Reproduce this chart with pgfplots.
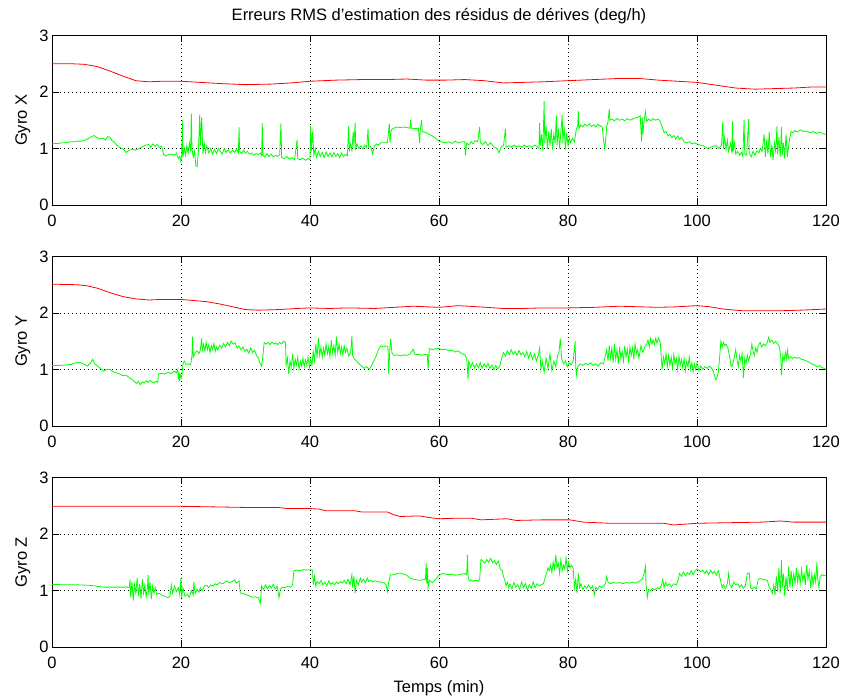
\documentclass[border=0pt]{standalone}
\usepackage{pgfplots}
\pgfplotsset{compat=1.18}
\usepackage{fontspec}
\setmainfont{Liberation Sans}
\definecolor{mred}{rgb}{1,0,0}
\definecolor{mgreen}{rgb}{0,1,0}
\pgfplotsset{
  mstyle/.style={
    scale only axis, width=774pt, height=169.5pt,
    xmin=0, xmax=120, ymin=0, ymax=3,
    xtick={0,20,...,120}, ytick={0,1,2,3},
    grid=major,
    major grid style={black, line width=0.6pt, dash pattern=on 0.9pt off 3.1pt},
    axis line style={black, line width=0.9pt},
    tick align=inside, major tick length=7pt,
    tick style={black, line width=0.8pt},
    /pgf/number format/assume math mode=true,
    tick label style={font=\fontsize{16.5}{19}\selectfont},
    label style={font=\fontsize{16.5}{19}\selectfont},
    title style={font=\fontsize{16.5}{19}\selectfont},
    xticklabel style={anchor=base, yshift=-21.5pt},
    ylabel style={at={(axis description cs:-0.0323,0.5)}, rotate=0, anchor=base},
    every axis plot/.append style={line width=0.8pt, mark=none},
    clip=true,
  }
}
\begin{document}
\begin{tikzpicture}
\path[use as bounding box] (0,0) rectangle (844pt,698pt);
% ---------------- Gyro X
\begin{axis}[mstyle, at={(52pt,493pt)}, anchor=south west,
  ylabel={Gyro X},
  title={Erreurs RMS d’estimation des résidus de dérives (deg/h)},
  title style={at={(axis description cs:0.5,1)}, anchor=base, yshift=9pt}]
\addplot[mred] table {
x y
0 2.50
3 2.50
5 2.49
7 2.45
9 2.37
11 2.28
13 2.20
15 2.18
17 2.19
20 2.19
23 2.17
26 2.15
30 2.13
34 2.14
37 2.16
40 2.19
44 2.21
48 2.22
52 2.22
55 2.23
58 2.21
61 2.21
64 2.22
67 2.20
70 2.16
73 2.17
76 2.18
80 2.20
84 2.22
88 2.24
91 2.24
94 2.21
97 2.19
100 2.17
103 2.12
106 2.07
109 2.05
112 2.06
115 2.07
118 2.09
120 2.09
};
\addplot[mgreen] table {
x y
0 1.08
0.5 1.09
1 1.09
1.5 1.10
2 1.10
2.5 1.11
3 1.12
3.5 1.12
4 1.13
4.5 1.13
5 1.14
5.5 1.17
6 1.20
6.5 1.23
7 1.19
7.5 1.17
8 1.18
8.3 1.15
8.6 1.21
9 1.20
9.3 1.14
9.6 1.12
10 1.06
10.5 1.02
11 0.99
11.5 0.93
12 0.97
12.5 0.99
13 0.97
13.5 1.00
14 1.03
14.5 1.06
15 1.07
15.3 1.02
15.6 1.08
16 1.04
16.3 1.07
16.6 1.02
17 1.04
17.3 0.90
17.6 0.87
18 0.89
18.5 0.90
19 0.88
19.3 0.92
19.6 0.82
19.8 0.86
20 0.76
20.1 0.82
20.2 1.50
20.3 0.85
20.5 1.00
20.7 0.88
20.9 1.05
21.1 0.92
21.3 1.10
21.5 0.95
21.6 1.62
21.7 1.00
21.9 0.85
22.1 0.95
22.3 0.70
22.5 0.68
22.7 0.95
22.9 1.60
23.0 1.05
23.2 1.55
23.4 0.90
23.6 1.10
23.8 0.93
24.0 1.05
24.3 0.92
24.6 1.00
24.9 0.90
25.2 0.98
25.5 0.91
25.8 1.00
26.1 0.95
26.4 0.90
26.7 1.00
27 0.93
27.3 0.98
27.6 0.92
28 0.97
28.3 0.93
28.6 0.99
28.9 0.92
29.0 1.38
29.1 0.95
29.4 0.91
29.7 0.97
30 0.92
30.3 0.95
30.6 0.90
31 0.92
31.3 0.88
31.6 0.91
32 0.89
32.3 0.92
32.5 0.88
32.6 1.45
32.7 0.88
33 0.85
33.3 0.91
33.6 0.86
34 0.90
34.3 0.85
34.6 0.88
35 0.86
35.3 0.89
35.5 1.45
35.6 0.84
36 0.82
36.4 0.86
36.8 0.81
37.2 0.84
37.6 0.80
38.0 1.15
38.1 0.82
38.5 0.80
38.9 0.83
39.3 0.79
39.7 0.82
40.0 0.80
40.1 1.40
40.2 0.95
40.4 1.30
40.6 0.88
40.8 1.00
41 0.85
41.3 0.95
41.6 0.86
41.9 0.93
42.2 0.84
42.5 0.94
42.8 0.86
43.1 0.92
43.4 0.85
43.7 0.93
44 0.86
44.3 0.91
44.6 0.84
44.9 0.92
45.2 0.86
45.5 0.90
45.8 0.87
46.0 1.40
46.1 0.95
46.3 1.08
46.5 0.96
46.7 1.30
46.8 1.05
47.0 1.45
47.1 1.00
47.3 1.08
47.6 1.00
47.9 1.05
48.2 0.99
48.5 1.06
48.8 1.01
49.0 1.35
49.1 1.02
49.4 1.04
49.7 0.90
50.0 1.05
50.3 1.08
50.6 1.06
51 1.10
51.5 1.10
52 1.10
52.3 1.44
52.4 1.10
52.6 1.33
53 1.36
53.5 1.38
54 1.37
54.5 1.38
55 1.37
55.5 1.36
55.6 1.50
55.7 1.36
56.2 1.35
56.8 1.36
57.0 1.10
57.1 1.34
57.3 1.50
57.4 1.30
58 1.28
58.5 1.25
59 1.22
59.5 1.18
60 1.13
60.5 1.11
61 1.10
61.5 1.12
62 1.09
62.5 1.13
63 1.10
63.5 1.12
64.0 1.12
64.1 0.88
64.3 1.10
64.6 1.06
65 1.12
65.3 1.08
65.6 1.14
66.0 1.12
66.3 1.38
66.4 1.10
66.8 1.07
67.2 1.12
67.6 1.05
68 1.10
68.5 1.03
69 1.00
69.3 0.92
69.6 1.02
70.0 1.05
70.3 1.35
70.4 1.02
70.8 1.05
71.2 1.02
71.6 1.06
72 1.03
72.4 1.05
72.8 1.02
73.2 1.06
73.6 1.03
74 1.05
74.4 1.02
74.8 1.06
75.2 1.04
75.5 1.00
75.6 1.45
75.7 1.05
75.9 1.25
76.1 0.95
76.3 1.84
76.4 1.10
76.6 1.40
76.8 1.00
77.0 1.30
77.2 1.05
77.4 1.35
77.6 0.98
77.8 1.25
78.0 1.10
78.2 1.58
78.3 1.05
78.5 1.35
78.7 1.00
78.9 1.30
79.1 1.60
79.2 1.10
79.4 1.40
79.6 0.98
79.8 1.28
80.0 1.05
80.2 1.20
80.4 1.10
80.7 1.18
81.0 1.12
81.3 1.35
81.5 1.40
81.6 1.66
81.7 1.35
82.0 1.42
82.3 1.38
82.6 1.43
83.0 1.40
83.3 1.44
83.6 1.39
84.0 1.42
84.3 1.38
84.6 1.43
85.0 1.40
85.3 1.38
85.5 1.15
85.7 1.00
85.8 1.10
86.0 1.40
86.2 1.47
86.4 1.70
86.5 1.50
86.8 1.52
87.2 1.49
87.6 1.53
88 1.50
88.4 1.52
88.8 1.49
89.2 1.53
89.6 1.50
90 1.52
90.4 1.54
90.8 1.55
91.2 1.58
91.4 1.12
91.5 1.55
91.6 1.25
91.8 1.50
92.0 1.65
92.2 1.48
92.5 1.52
92.8 1.49
93.2 1.53
93.6 1.50
94.0 1.52
94.3 1.48
94.6 1.38
94.9 1.28
95.2 1.30
95.5 1.22
95.8 1.25
96.1 1.19
96.4 1.23
96.7 1.17
97.0 1.22
97.3 1.16
97.6 1.20
98.0 1.12
98.4 1.10
98.8 1.12
99.2 1.08
99.6 1.10
100 1.08
100.5 1.06
101 1.05
101.6 1.00
102 1.02
102.5 1.04
103 1.05
103.4 1.00
103.8 1.06
104.0 1.48
104.1 1.00
104.3 1.20
104.5 0.98
104.7 1.15
104.9 0.95
105.2 1.10
105.4 0.92
105.5 1.48
105.6 0.95
105.8 1.10
106.0 0.90
106.3 0.95
106.6 0.88
106.9 0.93
107.1 0.86
107.3 1.50
107.4 0.90
107.7 0.88
108.0 1.52
108.1 0.92
108.4 0.85
108.7 0.95
109.0 0.88
109.3 0.96
109.6 0.92
109.8 1.00
110.1 0.95
110.4 1.25
110.6 0.85
110.8 1.15
111.0 0.90
111.2 1.30
111.4 0.85
111.6 1.05
111.8 0.80
112.0 1.10
112.2 0.95
112.4 1.40
112.5 0.90
112.7 1.20
112.9 0.85
113.1 1.38
113.2 0.88
113.4 1.10
113.6 0.82
113.8 1.25
114.0 0.85
114.2 1.05
114.4 1.20
114.6 1.30
114.9 1.28
115.2 1.32
115.5 1.29
116 1.33
116.5 1.30
117 1.31
117.5 1.28
118 1.30
118.5 1.27
119 1.29
119.5 1.26
120 1.25
};
\end{axis}
% ---------------- Gyro Y
\begin{axis}[mstyle, at={(52pt,272pt)}, anchor=south west, ylabel={Gyro Y}]
\addplot[mred] table {
x y
0 2.51
4 2.50
5.5 2.48
7 2.44
9 2.36
11 2.29
13 2.25
15 2.23
17 2.24
20 2.24
22 2.22
24 2.20
26 2.16
28 2.11
30 2.06
32 2.05
35 2.06
38 2.08
40 2.09
43 2.08
46 2.09
50 2.08
53 2.10
56 2.12
60 2.10
63 2.13
66 2.11
70 2.08
73 2.08
76 2.09
80 2.09
84 2.10
88 2.12
91 2.11
94 2.10
97 2.11
100 2.13
102 2.11
104 2.07
107 2.04
110 2.04
113 2.04
116 2.05
120 2.07
};
\addplot[mgreen] table {
x y
0 1.07
1 1.07
2 1.08
3 1.09
3.5 1.11
4 1.13
4.5 1.12
5 1.09
5.5 1.06
6 1.12
6.3 1.18
6.6 1.10
7 1.07
7.5 1.02
8 0.97
8.5 1.00
9 1.00
9.5 0.96
10 0.94
10.5 0.92
11 0.89
11.5 0.90
12 0.85
12.5 0.82
12.8 0.78
13.1 0.75
13.4 0.79
13.7 0.73
14.0 0.78
14.3 0.76
14.6 0.80
14.9 0.77
15.2 0.81
15.5 0.78
15.8 0.76
16.1 0.79
16.4 0.77
16.5 0.92
17 0.93
17.5 0.92
18 0.95
18.5 0.93
19 0.97
19.3 0.94
19.5 1.00
19.6 0.82
19.7 0.95
19.8 0.80
19.9 0.90
20.1 0.85
20.3 1.10
20.5 1.15
20.8 1.09
21.2 1.10
21.5 1.08
21.7 1.25
21.8 1.58
21.9 1.22
22.2 1.30
22.5 1.33
22.8 1.28
23.0 1.35
23.2 1.55
23.3 1.35
23.5 1.45
23.7 1.32
23.9 1.48
24.1 1.35
24.3 1.44
24.5 1.30
24.7 1.42
24.9 1.36
25.1 1.46
25.3 1.32
25.5 1.40
25.7 1.35
26.0 1.43
26.3 1.38
26.6 1.46
26.9 1.40
27.2 1.48
27.5 1.42
27.8 1.50
28.1 1.45
28.4 1.47
28.7 1.38
29 1.42
29.3 1.35
29.6 1.40
29.9 1.32
30.2 1.36
30.5 1.29
30.8 1.38
31.1 1.30
31.4 1.34
31.7 1.25
32.0 1.20
32.3 1.10
32.5 1.06
32.7 1.25
32.9 1.48
33.2 1.45
33.5 1.48
33.8 1.44
34.1 1.49
34.4 1.45
34.7 1.47
35 1.44
35.3 1.48
35.6 1.45
35.9 1.50
36.2 1.48
36.3 1.08
36.5 1.20
36.7 0.92
36.9 1.15
37.1 1.05
37.3 1.28
37.5 1.02
37.7 1.18
37.9 1.08
38.1 1.22
38.3 1.00
38.5 1.15
38.7 1.06
38.9 1.20
39.1 1.04
39.3 1.17
39.5 1.08
39.7 1.22
39.9 1.03
40.1 1.18
40.3 1.08
40.5 1.32
40.7 1.15
40.9 1.45
41.1 1.20
41.3 1.56
41.5 1.25
41.7 1.40
41.9 1.22
42.1 1.38
42.3 1.25
42.5 1.45
42.7 1.28
42.9 1.40
43.1 1.22
43.3 1.52
43.5 1.30
43.7 1.42
43.9 1.25
44.1 1.58
44.3 1.30
44.5 1.45
44.7 1.28
44.9 1.40
45.1 1.26
45.3 1.42
45.5 1.30
45.7 1.38
46.0 1.24
46.3 1.30
46.5 1.59
46.6 1.25
46.9 1.18
47.2 1.15
47.6 1.10
48.0 1.06
48.4 1.02
48.8 1.05
49.2 1.00
49.6 1.08
50.0 1.18
50.3 1.25
50.6 1.35
51.0 1.42
51.4 1.40
51.8 1.42
52.1 1.40
52.2 0.92
52.4 1.40
52.5 1.54
52.7 1.30
53 1.25
53.5 1.26
54 1.24
54.5 1.26
55 1.25
55.5 1.27
56.0 1.36
56.3 1.26
56.8 1.27
57.3 1.25
57.8 1.27
58.2 1.26
58.3 1.00
58.5 1.37
59 1.35
59.5 1.37
60 1.37
60.5 1.35
61 1.36
61.5 1.33
62 1.34
62.5 1.31
63 1.33
63.5 1.28
64 1.26
64.3 1.20
64.5 0.83
64.6 1.15
64.9 1.05
65.2 1.12
65.5 1.02
65.8 1.10
66.1 1.03
66.4 1.12
66.7 1.02
67.0 1.10
67.3 1.04
67.6 1.11
67.9 1.02
68.2 1.08
68.5 1.00
68.8 1.07
69.1 1.01
69.4 1.05
69.7 1.20
70.0 1.30
70.3 1.24
70.6 1.33
70.9 1.26
71.2 1.35
71.5 1.27
71.8 1.32
72.1 1.25
72.4 1.34
72.7 1.26
73.0 1.30
73.3 1.22
73.6 1.32
73.9 1.20
74.2 1.30
74.5 1.18
74.8 1.28
75.1 1.15
75.4 1.25
75.6 1.38
75.8 1.00
76.0 1.15
76.3 0.95
76.6 1.20
76.9 1.02
77.2 1.28
77.5 0.98
77.8 1.15
78.1 1.05
78.4 1.25
78.6 1.30
78.8 1.55
79.0 1.20
79.3 1.10
79.6 1.15
79.9 1.05
80.2 1.12
80.5 1.08
80.8 1.15
81.1 1.50
81.2 1.05
81.3 0.90
81.5 1.05
81.9 1.10
82.3 1.07
82.7 1.11
83.1 1.08
83.5 1.12
83.9 1.07
84.3 1.10
84.7 1.06
85.1 1.12
85.5 1.10
85.8 1.25
86.0 1.35
86.2 1.15
86.4 1.42
86.6 1.20
86.8 1.38
87.0 1.12
87.2 1.45
87.4 1.18
87.6 1.35
87.8 1.10
88.0 1.40
88.2 1.20
88.4 1.32
88.6 1.15
88.8 1.42
89.0 1.22
89.2 1.36
89.4 1.12
89.6 1.40
89.8 1.25
90.0 1.38
90.2 1.18
90.4 1.45
90.6 1.28
90.8 1.35
91.0 1.20
91.3 1.42
91.6 1.30
91.9 1.40
92.2 1.45
92.4 1.52
92.6 1.40
92.8 1.55
93.0 1.45
93.2 1.52
93.4 1.44
93.6 1.55
93.8 1.46
94.0 1.56
94.3 1.48
94.6 1.00
94.8 1.22
95.0 1.10
95.2 1.28
95.4 1.05
95.6 1.25
95.8 1.08
96.0 1.22
96.2 1.02
96.4 1.26
96.6 1.10
96.8 1.20
97.0 1.00
97.2 1.24
97.4 1.08
97.6 1.18
97.8 1.02
98.0 1.20
98.2 0.98
98.4 1.15
98.6 1.05
98.8 1.22
99.0 1.00
99.2 1.12
99.4 0.96
99.6 1.10
99.8 1.00
100.0 1.12
100.3 0.98
100.6 1.06
100.9 1.00
101.2 1.05
101.6 1.02
102.0 1.06
102.4 1.00
102.7 0.90
102.9 0.82
103.1 0.86
103.3 0.95
103.5 1.20
103.7 1.50
103.9 1.40
104.1 1.48
104.3 1.42
104.5 1.45
104.8 1.38
105.1 1.20
105.3 1.05
105.5 1.08
105.8 1.22
106.0 1.35
106.2 1.18
106.4 1.05
106.6 1.25
106.8 1.15
107.0 1.28
107.2 0.85
107.4 1.20
107.6 1.10
107.8 1.25
108.0 1.15
108.3 1.28
108.5 1.45
108.7 1.32
108.9 1.25
109.1 1.38
109.3 1.30
109.5 1.42
109.8 1.48
110.0 1.40
110.3 1.45
110.6 1.42
110.9 1.48
111.1 1.57
111.3 1.48
111.6 1.52
111.9 1.46
112.2 1.50
112.5 1.45
112.8 1.40
113.0 1.20
113.1 0.90
113.3 1.25
113.5 1.15
113.7 1.30
113.9 1.18
114.0 1.35
114.2 1.20
114.5 1.23
114.8 1.19
115.1 1.22
115.4 1.20
115.8 1.21
116.2 1.18
116.6 1.17
117.0 1.15
117.4 1.13
117.8 1.10
118.2 1.08
118.6 1.05
119.0 1.07
119.4 1.03
119.8 1.02
120 1.00
};
\end{axis}
% ---------------- Gyro Z
\begin{axis}[mstyle, at={(52pt,51pt)}, anchor=south west, ylabel={Gyro Z},
  xlabel={Temps (min)},
  xlabel style={at={(axis description cs:0.5,-0.266)}, anchor=base}]
\addplot[mred] table {
x y
0 2.49
20 2.49
25 2.48
30 2.47
35 2.47
36.5 2.45
40 2.45
41.5 2.44
42.5 2.41
47 2.41
48 2.39
52 2.39
53 2.34
54 2.31
57 2.32
58.5 2.29
60 2.27
63 2.28
65 2.28
66.5 2.25
70.5 2.27
72 2.24
76 2.25
80.3 2.25
82.4 2.21
86.5 2.19
94.8 2.19
96.4 2.16
100 2.19
105 2.20
110 2.21
113 2.23
115 2.21
120 2.21
};
\addplot[mgreen] table {
x y
0 1.11
2 1.10
4 1.10
6 1.09
8 1.06
10 1.06
12 1.06
12.1 1.20
12.2 0.88
12.4 1.15
12.6 0.82
12.8 1.10
13.0 0.95
13.2 1.22
13.4 0.90
13.6 1.12
13.8 0.85
14.0 1.20
14.2 0.95
14.4 1.10
14.6 0.88
14.8 1.05
14.9 1.27
15.0 0.92
15.2 1.15
15.4 0.85
15.6 1.08
15.8 0.95
16.0 1.05
16.2 0.93
16.6 0.95
17.0 0.92
17.5 0.90
18.0 0.87
18.3 0.90
18.5 1.10
18.7 0.95
19.0 1.08
19.3 0.98
19.6 1.05
19.8 0.92
20.0 1.23
20.1 0.87
20.3 1.05
20.6 0.90
21.0 0.93
21.3 0.88
21.6 1.00
21.9 0.92
22.0 1.15
22.2 0.95
22.5 1.02
22.8 0.97
23.0 1.05
23.3 1.00
23.6 1.08
24.0 1.09
24.3 1.05
24.6 1.10
25.0 1.08
25.3 1.12
25.6 1.10
26.0 1.14
26.5 1.12
27.0 1.17
27.5 1.14
28.0 1.16
28.3 1.19
28.6 1.13
29.0 1.17
29.2 0.95
29.6 0.95
30.0 0.93
30.5 0.91
31.0 0.88
31.5 0.89
32.0 0.87
32.3 0.77
32.4 0.92
32.5 1.08
32.8 1.02
33.1 1.10
33.4 1.03
33.7 1.09
34.0 1.04
34.3 1.11
34.6 1.02
34.9 1.08
35.2 0.87
35.4 1.02
35.7 1.06
36.0 1.05
36.5 1.07
37.0 1.06
37.3 1.10
37.5 1.35
38.0 1.36
38.5 1.35
39.0 1.37
39.5 1.36
40.0 1.37
40.4 1.36
40.5 1.10
40.7 1.25
40.9 1.08
41.1 1.16
41.4 1.12
41.7 1.18
42.0 1.10
42.3 1.15
42.6 1.08
42.9 1.17
43.2 1.11
43.5 1.14
43.8 1.10
44.1 1.15
44.4 1.12
44.7 1.16
45.0 1.13
45.3 1.18
45.6 1.12
45.9 1.20
46.2 1.10
46.5 1.28
46.6 1.05
46.8 1.25
47.0 0.95
47.2 1.18
47.5 1.10
47.8 1.22
48.0 1.15
48.3 1.20
48.6 1.14
48.9 1.22
49.1 1.16
49.4 1.18
49.7 1.15
50.0 1.17
50.5 1.16
51.0 1.15
51.5 1.14
51.8 1.10
52.0 0.98
52.2 1.15
52.5 1.28
53.0 1.28
53.5 1.30
54.0 1.31
54.5 1.29
55.0 1.27
55.5 1.22
56.0 1.20
56.5 1.19
57.0 1.18
57.5 1.19
57.9 1.20
58.0 1.48
58.1 1.12
58.2 1.40
58.3 1.05
58.5 1.18
59.0 1.14
59.5 1.20
60.0 1.27
60.5 1.30
61 1.29
61.5 1.28
62 1.29
62.5 1.27
63 1.28
63.5 1.29
64.0 1.30
64.3 1.28
64.4 1.63
64.5 1.25
64.7 1.17
65.0 1.19
65.3 1.16
65.6 1.18
66.0 1.17
66.3 1.19
66.5 1.55
66.8 1.52
67.1 1.48
67.4 1.55
67.7 1.50
68.0 1.57
68.3 1.49
68.6 1.53
68.9 1.46
69.2 1.52
69.5 1.38
69.8 1.35
70.0 1.25
70.2 1.18
70.4 1.08
70.6 1.15
70.8 1.05
71.0 1.12
71.3 1.03
71.6 1.14
71.9 1.06
72.2 1.10
72.5 1.02
72.8 1.15
73.1 1.05
73.4 1.12
73.7 1.00
74.0 1.10
74.3 1.04
74.6 1.15
74.9 1.05
75.2 1.12
75.5 1.08
75.8 1.10
76.2 1.12
76.5 1.25
76.9 1.40
77.1 1.35
77.3 1.45
77.5 1.32
77.7 1.50
77.9 1.38
78.1 1.63
78.3 1.40
78.5 1.48
78.7 1.30
78.9 1.55
79.1 1.35
79.3 1.45
79.5 1.38
79.7 1.58
79.9 1.35
80.1 1.50
80.3 1.40
80.5 1.45
80.8 1.40
81.0 1.05
81.2 1.20
81.4 0.95
81.6 1.30
81.8 1.05
82.0 1.12
82.3 1.02
82.6 1.08
82.9 1.04
83.2 1.10
83.5 1.03
83.8 1.08
84.1 0.92
84.3 1.06
84.6 1.02
84.9 1.08
85.2 1.05
85.5 1.08
85.8 1.12
86.0 1.25
86.2 1.15
86.5 1.12
87.0 1.14
87.5 1.13
88.0 1.14
88.5 1.12
89.0 1.14
89.5 1.13
90.0 1.15
90.5 1.13
91.0 1.16
91.5 1.20
91.8 1.30
92.0 1.43
92.1 1.10
92.2 1.00
92.3 0.88
92.5 1.02
92.8 1.00
93.1 1.04
93.4 1.01
93.8 1.05
94.2 1.03
94.5 1.10
94.7 1.20
94.9 1.05
95.1 1.15
95.4 1.08
95.7 1.12
96.0 1.06
96.4 1.12
96.8 1.10
97.1 1.20
97.3 1.30
97.6 1.25
97.9 1.33
98.2 1.26
98.5 1.32
98.8 1.28
99.1 1.35
99.4 1.28
99.7 1.35
100.0 1.38
100.3 1.36
100.6 1.33
100.9 1.36
101.2 1.30
101.5 1.35
101.8 1.28
102.1 1.36
102.4 1.30
102.7 1.34
103.0 1.27
103.3 1.35
103.6 1.20
103.9 1.05
104.1 1.10
104.4 1.03
104.7 1.12
104.9 1.30
105.1 1.10
105.4 1.05
105.7 1.15
106.0 1.10
106.3 1.12
106.6 1.06
106.9 1.10
107.2 1.04
107.5 1.08
107.8 1.30
108.1 1.31
108.3 1.05
108.6 1.03
108.9 1.06
109.2 1.03
109.5 1.20
109.8 1.21
110.1 1.20
110.5 1.19
110.9 1.18
111.2 1.05
111.4 1.02
111.7 0.95
111.9 1.10
112.1 0.92
112.3 1.25
112.5 0.98
112.7 1.40
112.9 0.95
113.1 1.54
113.2 1.05
113.4 1.30
113.6 0.90
113.8 1.25
114.0 1.00
114.2 1.42
114.4 1.05
114.6 1.35
114.8 1.10
115.0 1.30
115.2 1.12
115.4 1.40
115.6 1.15
115.8 1.32
116.0 1.12
116.2 1.38
116.4 1.18
116.6 1.30
116.8 1.10
117.0 1.45
117.2 1.20
117.4 1.35
117.6 1.05
117.8 1.30
118.0 1.10
118.2 1.28
118.4 1.15
118.6 1.50
118.7 1.22
118.9 1.05
119.1 1.25
119.4 1.28
119.7 1.26
120 1.27
};
\end{axis}
\end{tikzpicture}
\end{document}
